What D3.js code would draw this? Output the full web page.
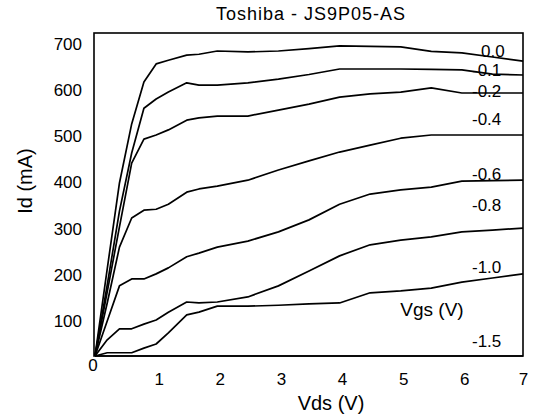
<!DOCTYPE html>
<html>
<head>
<meta charset="utf-8">
<script src="https://cdn.jsdelivr.net/npm/d3@7"></script>
<style>
  html, body { margin: 0; padding: 0; background: #fff; }
  svg { display: block; font-family: "Liberation Sans", Arial, sans-serif; }
</style>
</head>
<body>
<svg id="chart" width="533" height="418"></svg>
<script>
// ---- data ----
const vds = [0, 0.2, 0.4, 0.6, 0.8, 1.0, 1.2, 1.5, 1.7, 2.0, 2.5, 3.0, 3.5, 4.0, 4.5, 5.0, 5.5, 6.0, 6.5, 7.0];
const vgsLabels = ["0.0", "-0.1", "-0.2", "-0.4", "-0.6", "-0.8", "-1.0", "-1.5"];
const idVgs0_0 = [0, 189, 375, 503, 594, 633, 641, 652, 654, 661, 659, 661, 666, 672, 671, 670, 660, 657, 648, 639];
const idVgsM0_1 = [0, 154, 314, 440, 537, 557, 572, 592, 587, 587, 592, 600, 610, 622, 622, 622, 621, 620, 611, 609];
const idVgsM0_2 = [0, 139, 280, 418, 470, 479, 490, 511, 516, 520, 520, 533, 546, 561, 568, 572, 581, 570, 570, 570];
const idVgsM0_4 = [0, 115, 236, 299, 316, 318, 329, 355, 362, 368, 381, 403, 423, 442, 457, 472, 479, 479, 479, 479];
const idVgsM0_6 = [0, 76, 152, 167, 167, 178, 191, 215, 223, 236, 249, 269, 295, 329, 351, 360, 366, 379, 380, 381];
const idVgsM0_8 = [0, 35, 59, 59, 69, 78, 95, 117, 115, 117, 128, 152, 184, 217, 241, 251, 258, 269, 273, 277];
const idVgsM1_0 = [0, 7, 7, 7, 17, 26, 50, 89, 95, 108, 108, 110, 113, 115, 137, 141, 147, 160, 169, 178];
const idVgsM1_5 = [0, 0, 0, 0, 0, 0, 0, 0, 0, 0, 0, 0, 0, 0, 0, 0, 0, 0, 0, 0];
const xTicks = [0, 1, 2, 3, 4, 5, 6, 7];
const yTicks = [100, 200, 300, 400, 500, 600, 700];
const titleText = "Toshiba - JS9P05-AS";
const xTitle = "Vds (V)";
const yTitle = "Id (mA)";
const legendTitle = "Vgs (V)";

const seriesList = [idVgs0_0, idVgsM0_1, idVgsM0_2, idVgsM0_4, idVgsM0_6, idVgsM0_8, idVgsM1_0, idVgsM1_5];

// ---- layout ----
const svg = d3.select("#chart");
const plotLeft = 95, plotRight = 523, plotTop = 33, plotBottom = 356;
const x = d3.scaleLinear().domain([0, 7]).range([plotLeft, plotRight]);
const y = d3.scaleLinear().domain([0, 700]).range([plotBottom, plotTop]);

// title
svg.append("text")
  .attr("x", 311).attr("y", 20)
  .attr("text-anchor", "middle")
  .attr("font-size", 18)
  .attr("letter-spacing", 1)
  .text(titleText);

// frame
svg.append("rect")
  .attr("x", x(0) - 1).attr("y", y(700))
  .attr("width", x(7) - x(0) + 1).attr("height", y(0) - y(700))
  .attr("fill", "none").attr("stroke", "#000").attr("stroke-width", 1.6);

// y axis (labels only)
const yAxis = svg.append("g")
  .attr("transform", `translate(${x(0)},0)`)
  .call(d3.axisLeft(y).tickValues(yTicks).tickSize(0).tickFormat(d3.format("d")));
yAxis.select(".domain").remove();
yAxis.selectAll("text")
  .attr("x", -13).attr("y", 11).attr("dy", "0.32em")
  .attr("font-size", 17).attr("fill", "#000")
  .attr("font-family", "Liberation Sans, Arial, sans-serif");

// x axis (labels only)
const xAxis = svg.append("g")
  .attr("transform", `translate(0,${y(0)})`)
  .call(d3.axisBottom(x).tickValues(xTicks).tickSize(0).tickFormat(d3.format("d")));
xAxis.select(".domain").remove();
xAxis.selectAll("text")
  .attr("y", d => d === 0 ? 3 : 17)
  .attr("dx", d => d === 0 ? -2.5 : (d === 7 ? 0 : 2.5))
  .attr("dy", "0.71em")
  .attr("font-size", 17).attr("fill", "#000")
  .attr("font-family", "Liberation Sans, Arial, sans-serif");

// axis titles
svg.append("text")
  .attr("x", 331).attr("y", 410)
  .attr("text-anchor", "middle").attr("font-size", 20)
  .text(xTitle);
svg.append("text")
  .attr("transform", "translate(32,181) rotate(-90)")
  .attr("text-anchor", "middle").attr("font-size", 20)
  .text(yTitle);

// curve labels
const labelPos = [[481, 57], [472, 76], [472, 97], [472, 125], [472, 180], [472, 211], [472, 273], [472, 347]];
svg.append("g").selectAll("text")
  .data(vgsLabels)
  .join("text")
  .attr("x", (d, i) => labelPos[i][0])
  .attr("y", (d, i) => labelPos[i][1])
  .attr("font-size", 17)
  .text(d => d);

svg.append("text")
  .attr("x", 432).attr("y", 316)
  .attr("text-anchor", "middle").attr("font-size", 19)
  .text(legendTitle);

// curves
const line = d3.line()
  .x((d, i) => x(vds[i]))
  .y(d => y(d));
svg.append("g").selectAll("path")
  .data(seriesList)
  .join("path")
  .attr("d", d => line(d))
  .attr("fill", "none")
  .attr("stroke", "#000")
  .attr("stroke-width", 1.7)
  .attr("stroke-linejoin", "round");
</script>
</body>
</html>
